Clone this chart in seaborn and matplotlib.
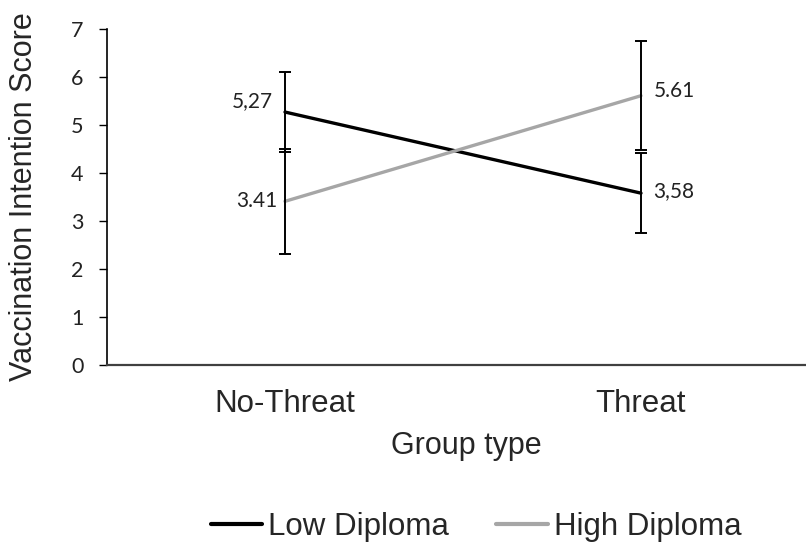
import matplotlib
matplotlib.use("Agg")
import matplotlib.pyplot as plt
import seaborn as sns
import pandas as pd
import numpy as np
from matplotlib.lines import Line2D

groups = ["No-Threat", "Threat"]
low_diploma = [5.27, 3.58]
high_diploma = [3.41, 5.61]
low_err = [0.84, 0.84]
high_err = [1.10, 1.13]
low_labels = ["5,27", "3,58"]
high_labels = ["3.41", "5.61"]
series_names = ["Low Diploma", "High Diploma"]
colors = ["#000000", "#A6A6A6"]

df = pd.DataFrame({
    "Group type": groups * 2,
    "Score": low_diploma + high_diploma,
    "Series": [series_names[0]] * 2 + [series_names[1]] * 2,
})

sns.set_theme(style="white")
plt.rcParams["font.family"] = ["Liberation Sans", "DejaVu Sans"]

W, H = 806, 549
fig = plt.figure(figsize=(W / 100, H / 100), dpi=100)
ax = fig.add_axes([107 / W, (H - 365) / H, 712 / W, 336 / H])

sns.lineplot(data=df, x="Group type", y="Score", hue="Series",
             palette=dict(zip(series_names, colors)), linewidth=2.4,
             ax=ax, legend=False, sort=False)

xs = np.arange(len(groups))
ax.errorbar(xs, low_diploma, yerr=low_err, fmt="none", ecolor="black",
            elinewidth=1.4, capsize=4.5, capthick=1.4, zorder=5)
ax.errorbar(xs, high_diploma, yerr=high_err, fmt="none", ecolor="black",
            elinewidth=1.4, capsize=4.5, capthick=1.4, zorder=5)

lab_font = dict(family=["Lato", "DejaVu Sans"], fontsize=15, color="#222222")
ax.text(xs[0] - 0.035, low_diploma[0] + 0.22, low_labels[0], ha="right", va="center", **lab_font)
ax.text(xs[0] - 0.02, high_diploma[0], high_labels[0], ha="right", va="center", **lab_font)
ax.text(xs[1] + 0.035, high_diploma[1] + 0.1, high_labels[1], ha="left", va="center", **lab_font)
ax.text(xs[1] + 0.035, low_diploma[1] + 0.05, low_labels[1], ha="left", va="center", **lab_font)

ax.set_xlim(-0.5, 1.5)
ax.set_ylim(0, 7)
ax.set_yticks(range(0, 8))
ax.set_yticklabels([str(i) for i in range(0, 8)], family=["Lato", "DejaVu Sans"], fontsize=15.5, color="#222222")
ax.set_xticks(xs)
ax.set_xticklabels(groups, fontsize=22.5)
ax.set_xticks([-0.5, 0.5, 1.5], minor=True)
ax.tick_params(axis="x", which="major", length=0, pad=17)
ax.tick_params(axis="x", which="minor", length=6, width=1, color="#404040", direction="out")
ax.tick_params(axis="y", length=6, width=1, color="black", direction="out", left=True, pad=11)

for s in ["top", "right"]:
    ax.spines[s].set_visible(False)
ax.spines["left"].set_color("black")
ax.spines["left"].set_linewidth(1.2)
ax.spines["bottom"].set_color("#404040")
ax.spines["bottom"].set_linewidth(1.6)
ax.spines["bottom"].set_clip_on(False)

ax.set_xlabel("Group type", fontsize=22)
ax.xaxis.set_label_coords((466 - 107) / 712, -(446 - 365) / 336)
ax.xaxis.label.set_va("center")
ax.set_ylabel("Vaccination Intention Score", fontsize=22)
ax.yaxis.set_label_coords(-(107 - 24) / 712, (365 - 197) / 336)
ax.yaxis.label.set_va("center")
ax.grid(False)

handles = [Line2D([], [], color=c, linewidth=3) for c in colors]
fig.legend(handles, series_names, loc="center", bbox_to_anchor=(476 / W, 1 - 527 / H),
           ncol=2, frameon=False, fontsize=22.5, handlelength=1.65, handletextpad=0.2,
           columnspacing=1.5, borderpad=0, borderaxespad=0)

fig.savefig("out.png", dpi=100)
